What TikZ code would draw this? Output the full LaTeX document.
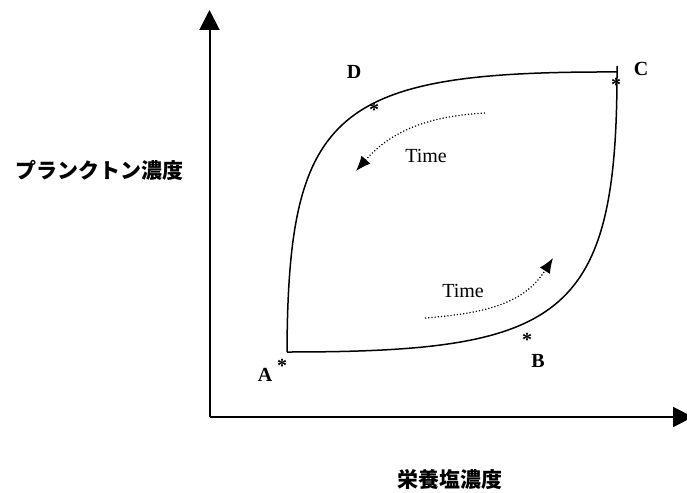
\documentclass[tikz,border=0pt]{standalone}
\usepackage{fontspec}
\setmainfont{Liberation Serif}
\newfontfamily\cjk{Noto Sans CJK JP}
\usetikzlibrary{arrows.meta}
\tikzset{
  axis/.style={line width=2pt,-{Triangle[length=20pt,width=20pt]}},
  curve/.style={line width=1.5pt},
  timearrow/.style={dotted,line width=1.2pt,-{Latex[length=15pt,width=12pt]}},
  ptlabel/.style={font=\fontsize{20}{20}\selectfont\bfseries,inner sep=0pt},
  star/.style={font=\fontsize{20}{20}\selectfont\bfseries,inner sep=0pt},
  timelabel/.style={font=\fontsize{20}{20}\selectfont,inner sep=0pt},
  axlabel/.style={font=\fontsize{21}{21}\selectfont\cjk\bfseries,inner sep=0pt}
}
\begin{document}
\begin{tikzpicture}[x=1pt,y=-1pt]
\useasboundingbox (0,0) rectangle (687,492);
\coordinate (O) at (209.5,417);
\coordinate (ytop) at (209.5,10);
\coordinate (xend) at (693,417);
\draw[axis] (O) -- (ytop);
\draw[axis] (O) -- (xend);
\coordinate (A) at (287,352);
\coordinate (C) at (617,72);
\coordinate (Ct) at (617,66);
\draw[curve] (A) .. controls (288,110) and (335,71) .. (C);
\draw[curve] (A) .. controls (560,352) and (617,320) .. (C) -- (Ct);
\node[ptlabel] (Dl) at (354,72) {D};
\node[ptlabel] (Cl) at (641,69) {C};
\node[ptlabel] (Al) at (265,375) {A};
\node[ptlabel] (Bl) at (538,361) {B};
\node[star] (sD) at (374,110) {*};
\node[star] (sC) at (616,85) {*};
\node[star] (sA) at (282,366) {*};
\node[star] (sB) at (527,340) {*};
\coordinate (t1s) at (485,113);
\coordinate (t1e) at (356,171);
\draw[timearrow] (t1s) .. controls (430,116) and (392,130) .. (t1e);
\coordinate (t2s) at (425,318);
\coordinate (t2e) at (553,258);
\draw[timearrow] (t2s) .. controls (490,313) and (525,302) .. (t2e);
\node[timelabel] (T1) at (426,156) {Time};
\node[timelabel] (T2) at (463,291) {Time};
\node[axlabel] (yl) at (99,170) {プランクトン濃度};
\node[axlabel] (xl) at (450,480) {栄養塩濃度};
\end{tikzpicture}
\end{document}
